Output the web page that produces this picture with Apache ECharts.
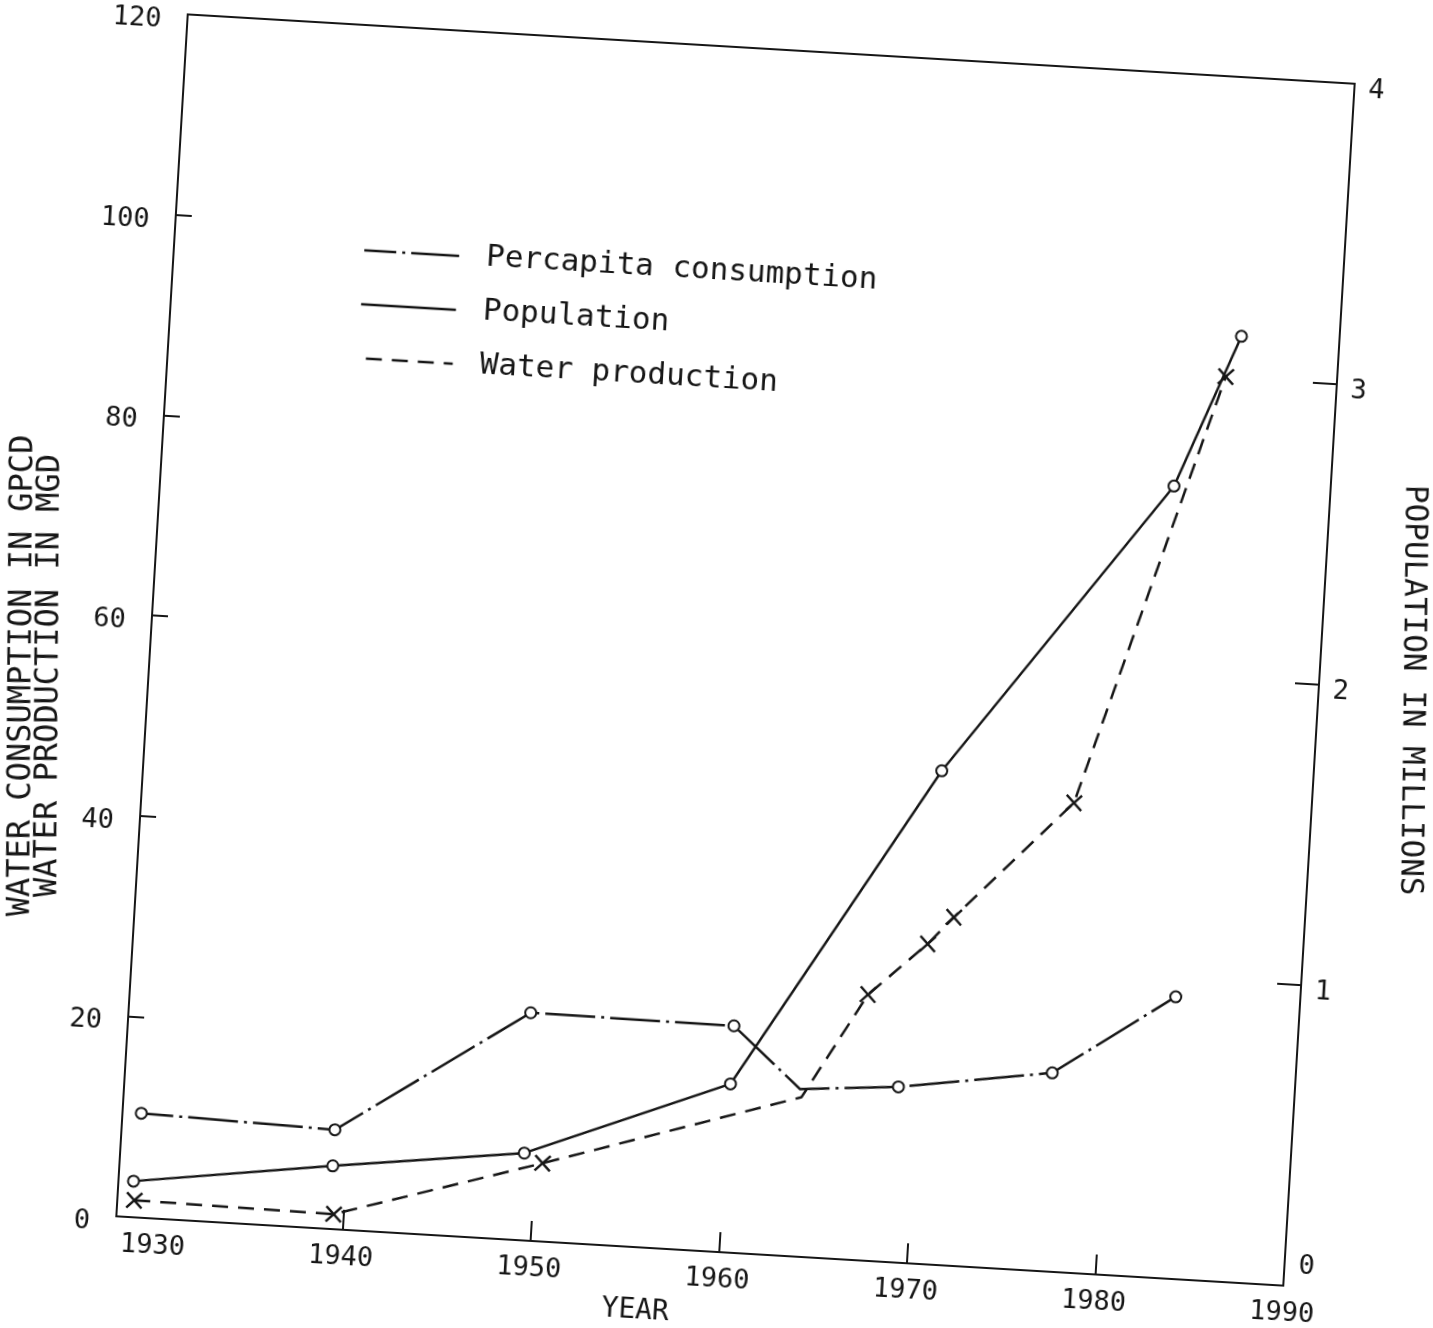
<!DOCTYPE html>
<html>
<head>
<meta charset="utf-8">
<title>Water consumption, production and population</title>
<script src="https://cdn.jsdelivr.net/npm/echarts@6/dist/echarts.min.js"></script>
<style>
  html, body { margin: 0; padding: 0; background: #fff; overflow: hidden; width: 1433px; height: 1328px; }
  /* the scanned figure sits a few degrees off square, so the whole chart is turned */
  #chart { position: absolute; left: -50px; top: -50px; width: 1533px; height: 1428px;
           transform: rotate(3.4deg); transform-origin: 785px 700px; }
</style>
</head>
<body>
<div id="chart"></div>
<script>
// per capita consumption, gpcd
var pcYears = [1929, 1939.3, 1949.3, 1960.1, 1963.8, 1969.0, 1977.1, 1983.4];
var pcValues = [10.4, 9.9, 22.7, 22.6, 16.7, 17.5, 19.8, 28.1];

// population, millions
var popYears = [1928.8, 1939.3, 1949.4, 1960.1, 1970.3, 1981.7, 1984.8];
var popValues = [0.12, 0.21, 0.29, 0.56, 1.64, 2.63, 3.14];

// water production, mgd
var wpYears = [1928.9, 1939.5, 1950.4, 1963.9, 1967.1, 1970.1, 1971.4, 1977.4, 1984.1];
var wpValues = [1.7, 1.5, 7.8, 15.9, 26.5, 31.9, 34.7, 46.8, 90.1];

var yearLabels = [1930, 1940, 1950, 1960, 1970, 1980, 1990];
var yearTicks = [1940, 1950, 1960, 1970, 1980];

var ink = '#161616';
var font = 'DejaVu Sans Mono';
var cross = 'path://M0,1L1,0L5,4L9,0L10,1L6,5L10,9L9,10L5,6L1,10L0,9L4,5Z';

function pairs(xs, ys, bare) {
    return xs.map(function (x, i) {
        // bare = bend of the line with no marker drawn on it
        if (i === bare) return { value: [x, ys[i]], symbol: 'none' };
        return [x, ys[i]];
    });
}

var axisLine = { show: true, lineStyle: { color: ink, width: 2 } };

var chart = echarts.init(document.getElementById('chart'));
chart.setOption({
    animation: false,
    textStyle: { fontFamily: font, color: ink },
    grid: {
        left: 201, top: 98, width: 1169, height: 1204,
        show: true, borderColor: ink, borderWidth: 2
    },
    legend: {
        orient: 'vertical',
        left: 390, top: 307,
        padding: 0,
        itemWidth: 95, itemHeight: 14, itemGap: 22,
        itemStyle: { opacity: 0 },
        lineStyle: { width: 2.5 },
        textStyle: { fontFamily: font, fontSize: 31, color: ink, lineHeight: 32, padding: [0, 0, 0, 22] },
        data: ['Percapita consumption', 'Population', 'Water production']
    },
    xAxis: {
        type: 'value', min: 1928, max: 1990,
        name: 'YEAR', nameLocation: 'middle', nameGap: 50, nameMoveOverlap: false,
        nameTextStyle: { fontSize: 28, color: ink, padding: [0, 122, 0, 0] },
        axisLine: axisLine,
        axisTick: { inside: true, length: 20, customValues: yearTicks, lineStyle: { color: ink, width: 2 } },
        axisLabel: {
            customValues: yearLabels, fontSize: 27, margin: 14, color: ink,
            formatter: function (v) { return String(v); }
        },
        splitLine: { show: false }
    },
    yAxis: [{
        type: 'value', min: 0, max: 120, interval: 20, position: 'left',
        name: 'WATER CONSUMPTION IN GPCD\nWATER PRODUCTION IN MGD',
        nameLocation: 'middle', nameRotate: 93, nameGap: 116, nameMoveOverlap: false,
        nameTextStyle: {
            fontSize: 32, lineHeight: 27, color: ink,
            align: 'center', verticalAlign: 'middle', padding: [0, 134, 0, 0]
        },
        axisLine: axisLine,
        axisTick: { inside: true, length: 16, lineStyle: { color: ink, width: 2 } },
        axisLabel: { fontSize: 27, margin: 26, color: ink, verticalAlign: 'top', lineHeight: 14 },
        splitLine: { show: false }
    }, {
        type: 'value', min: 0, max: 4, interval: 1, position: 'right',
        name: 'POPULATION IN MILLIONS',
        nameLocation: 'middle', nameRotate: -87.3, nameGap: 93, nameMoveOverlap: false,
        nameTextStyle: { fontSize: 31, color: ink, align: 'center', verticalAlign: 'middle' },
        axisLine: axisLine,
        axisTick: { inside: true, length: 24, lineStyle: { color: ink, width: 2 } },
        axisLabel: {
            fontSize: 27, margin: 14, color: ink, lineHeight: 12,
            // the bottom label of this axis sits above its tick in the original, the rest just below
            formatter: function (v) { return v === 0 ? '{up|0}' : '{dn|' + v + '}'; },
            rich: {
                up: { fontSize: 27, fontFamily: font, lineHeight: 12, padding: [0, 0, 40, 0] },
                dn: { fontSize: 27, fontFamily: font, lineHeight: 12, padding: [12, 0, 0, 0] }
            }
        },
        splitLine: { show: false }
    }],
    series: [{
        name: 'Percapita consumption',
        type: 'line',
        yAxisIndex: 0,
        data: pairs(pcYears, pcValues, 4),
        symbol: 'emptyCircle', symbolSize: 11,
        itemStyle: { color: ink, borderWidth: 2 },
        lineStyle: { color: ink, width: 2.5, type: [50, 6, 3, 6], dashOffset: 18 },
        emphasis: { disabled: true }
    }, {
        name: 'Population',
        type: 'line',
        yAxisIndex: 1,
        data: pairs(popYears, popValues, -1),
        symbol: 'emptyCircle', symbolSize: 11,
        itemStyle: { color: ink, borderWidth: 2 },
        lineStyle: { color: ink, width: 2.5 },
        emphasis: { disabled: true }
    }, {
        name: 'Water production',
        type: 'line',
        yAxisIndex: 0,
        data: pairs(wpYears, wpValues, 3),
        symbol: cross, symbolSize: 17,
        itemStyle: { color: ink },
        lineStyle: { color: ink, width: 2.5, type: [16, 10] },
        emphasis: { disabled: true }
    }]
});
</script>
</body>
</html>
